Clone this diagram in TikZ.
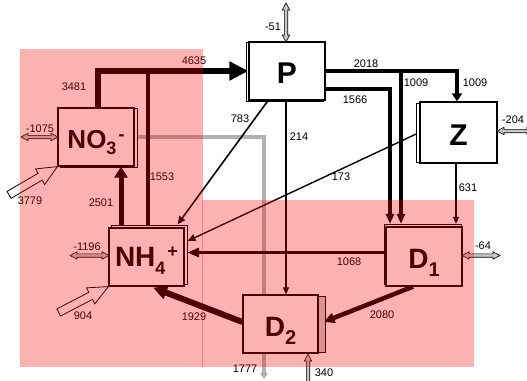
\documentclass[tikz,border=0pt]{standalone}
\usepackage{fontspec}
\setmainfont{Liberation Sans}
\usetikzlibrary{arrows.meta,calc}
\pgfdeclarelayer{conn}
\pgfdeclarelayer{shad}
\pgfdeclarelayer{top}
\pgfsetlayers{conn,shad,main,top}
\newcommand\hdarr[3]{%
  \pgfmathsetmacro\hxa{#1+7}\pgfmathsetmacro\hxb{#2-7}%
  \filldraw[dblarr] (#1,#3) -- (\hxa,#3-3.7) -- (\hxa,#3-1.7) -- (\hxb,#3-1.7) -- (\hxb,#3-3.7) -- (#2,#3)
    -- (\hxb,#3+3.7) -- (\hxb,#3+1.7) -- (\hxa,#3+1.7) -- (\hxa,#3+3.7) -- cycle;}
\newcommand\vdarr[3]{%
  \pgfmathsetmacro\hya{#2+7}\pgfmathsetmacro\hyb{#3-7}%
  \filldraw[dblarr] (#1,#2) -- (#1-3.7,\hya) -- (#1-1.7,\hya) -- (#1-1.7,\hyb) -- (#1-3.7,\hyb) -- (#1,#3)
    -- (#1+3.7,\hyb) -- (#1+1.7,\hyb) -- (#1+1.7,\hya) -- (#1+3.7,\hya) -- cycle;}
\begin{document}
\begin{tikzpicture}[x=1pt,y=-1pt,
  box/.style={draw=black, line width=1.2pt, fill=white, inner sep=0pt, text depth=0pt,
    font=\fontsize{28}{28}\bfseries\selectfont},
  shadowbox/.style={draw=black, line width=0.8pt, fill=white},
  lab/.style={inner sep=0pt, font=\fontsize{11}{11}\selectfont},
  dblarr/.style={draw=black, line width=0.6pt, fill=gray!45},
  blockarr/.style={draw=black, line width=0.8pt, fill=white},
  cn/.style={draw=black, line join=miter}
]
\useasboundingbox (0,0) rectangle (527,380);

% boxes
\node[box, minimum width=76pt, minimum height=58pt, text height=24.6pt, font=\fontsize{30}{30}\bfseries\selectfont] (P) at (287,71) {P};
\node[box, minimum width=77pt, minimum height=61pt, text height=25pt, font=\fontsize{30}{30}\bfseries\selectfont] (Z) at (458.5,132.5) {Z};
\node[box, minimum width=76pt, minimum height=58pt, text height=22.6pt, font=\fontsize{26}{26}\bfseries\selectfont] (NO3) at (96,137)
  {NO\raisebox{-6.5pt}{\fontsize{18}{18}\selectfont 3}\kern2pt\raisebox{8pt}{\fontsize{18}{18}\selectfont -}};
\node[box, minimum width=75pt, minimum height=58pt, text height=19.4pt] (NH4) at (146.5,257)
  {NH\raisebox{-8pt}{\fontsize{18}{18}\selectfont 4}\kern2pt\raisebox{9pt}{\fontsize{18}{18}\selectfont +}};
\node[box, minimum width=76pt, minimum height=59pt, text height=23.6pt] (D1) at (424,256.5)
  {D\raisebox{-8pt}{\fontsize{20}{20}\selectfont 1}};
\node[box, minimum width=75pt, minimum height=58pt, text height=25.4pt] (D2) at (280.5,324)
  {D\raisebox{-8pt}{\fontsize{20}{20}\selectfont 2}};

% shadows
\begin{pgfonlayer}{shad}
\draw[shadowbox] ([shift={(-2.5,1)}]P.north west) rectangle ([shift={(-2.5,1)}]P.south east);
\draw[shadowbox] ([shift={(-3.5,1.5)}]Z.north west) rectangle ([shift={(-3.5,-1.5)}]Z.south east);
\draw[shadowbox] ([shift={(2.5,1)}]NO3.north west) rectangle ([shift={(2.5,1)}]NO3.south east);
\draw[shadowbox] ([shift={(2.5,-2.5)}]NH4.north west) rectangle ([shift={(2.5,-2.5)}]NH4.south east);
\draw[shadowbox] ([shift={(-1.5,-2.5)}]D1.north west) rectangle ([shift={(-1.5,-2.5)}]D1.south east);
\draw[shadowbox, fill=gray!35] ([shift={(0,2)}]D2.north east) rectangle ([shift={(6.5,-1)}]D2.south east);
\end{pgfonlayer}

% helper coordinates
\coordinate (j1553) at (148,70);
\coordinate (j1009) at (401,71);
\coordinate (j1566) at (390,89);
\coordinate (j631) at (456,0);
\coordinate (d1top) at ([shift={(0,-2.5)}]D1.north);
\coordinate (g1777) at (264,379);

\begin{pgfonlayer}{conn}
\draw[cn, color=gray!60, line width=3.5pt, -{Triangle[length=6pt,width=8pt]}] (NO3.east) -| (g1777);
\draw[cn, line width=5.5pt, -{Triangle[length=19pt,width=18pt]}] ([shift={(2,0)}]NO3.north) |- (P.west);
\draw[cn, line width=3.5pt] (j1553 |- NH4.north) -- (j1553);
\draw[cn, line width=5pt, -{Triangle[length=11pt,width=13pt]}] ([shift={(-25.5,0)}]NH4.north) -- ([shift={(-25.5,0)}]NH4.north |- NO3.south);
\draw[cn, line width=1.6pt, -{Triangle[length=8pt,width=7pt]}] ([shift={(-19,0)}]P.south) -- ([shift={(-7,-3)}]NH4.north east);
\draw[cn, line width=1.4pt, -{Triangle[length=7pt,width=6pt]}] ([shift={(-1,0)}]P.south) -- ([shift={(-1,0)}]P.south |- D2.north);
\draw[cn, line width=3.6pt, -{Triangle[length=8pt,width=10pt]}] (P.east) -| ([shift={(-1.5,0)}]Z.north);
\draw[cn, line width=3.6pt, -{Triangle[length=10pt,width=8pt]}] (j1009) -- (j1009 |- d1top);
\draw[cn, line width=4pt, -{Triangle[length=10pt,width=8pt]}] (P.east |- j1566) -| (j1566 |- d1top);
\draw[cn, line width=1.4pt, -{Triangle[length=7pt,width=6pt]}] (j631 |- Z.south) -- (j631 |- d1top);
\draw[cn, line width=1.4pt, -{Triangle[length=8pt,width=7pt]}] (Z.west) -- ([shift={(3,-16)}]NH4.east);
\draw[cn, line width=3.8pt, -{Triangle[length=12pt,width=9pt]}] ([shift={(0,-4)}]D1.west) -- ([shift={(2.5,-4.5)}]NH4.east);
\draw[cn, line width=4.5pt, -{Triangle[length=11pt,width=10pt]}] ([shift={(-11,0)}]D1.south) -- ([shift={(5,-2)}]D2.east);
\draw[cn, line width=6pt, -{Triangle[length=14pt,width=13pt]}] ([shift={(0,-2)}]D2.west) -- ([shift={(6.5,1)}]NH4.south);
\end{pgfonlayer}

% exchange arrows
\vdarr{286}{3}{42}
\hdarr{21}{58}{137}
\hdarr{497}{534}{131}
\hdarr{70}{109}{255.5}
\hdarr{462}{500}{255.5}
\vdarr{308}{354}{390}

% input block arrows
\begin{scope}[shift={(NO3.south west)}, rotate=210.3]
\draw[blockarr] (0,0) -- (20,-9) -- (20,-4) -- (56,-4) -- (56,4) -- (20,4) -- (20,9) -- cycle;
\end{scope}
\begin{scope}[shift={(NH4.south west)}, rotate=207.5]
\draw[blockarr] (0,0) -- (20,-9) -- (20,-4) -- (56,-4) -- (56,4) -- (20,4) -- (20,9) -- cycle;
\end{scope}

% labels
\node[lab] (l4635) at (194,61) {4635};
\node[lab] (l3481) at (74,87) {3481};
\node[lab] (l1553) at (162,177) {1553};
\node[lab] (l2501) at (101,203) {2501};
\node[lab] (l783) at (240,119) {783};
\node[lab] (l214) at (299,137) {214};
\node[lab] (l2018) at (366,64) {2018};
\node[lab] (l1566) at (355,99.5) {1566};
\node[lab] (l1009a) at (416,83) {1009};
\node[lab] (l1009b) at (475,83) {1009};
\node[lab] (l631) at (468,188) {631};
\node[lab] (l173) at (341,177) {173};
\node[lab] (l1068) at (349,262) {1068};
\node[lab] (l2080) at (382,315) {2080};
\node[lab] (l1929) at (194,317) {1929};
\node[lab] (l1777) at (245,369) {1777};
\node[lab] (l340) at (324,373) {340};
\node[lab] (l51) at (273,27) {-51};
\node[lab] (l1075) at (40,128.5) {-1075};
\node[lab] (l204) at (513,120) {-204};
\node[lab] (l1196) at (87,247) {-1196};
\node[lab] (l64) at (483,246) {-64};
\node[lab] (l3779) at (30,201) {3779};
\node[lab] (l904) at (83,316) {904};

% pink overlay
\begin{pgfonlayer}{top}
\fill[red, fill opacity=0.3] (20,49) rectangle (202.5,366.5);
\fill[red, fill opacity=0.3] (201.7,200) rectangle (474,366.5);
\end{pgfonlayer}
\end{tikzpicture}
\end{document}
